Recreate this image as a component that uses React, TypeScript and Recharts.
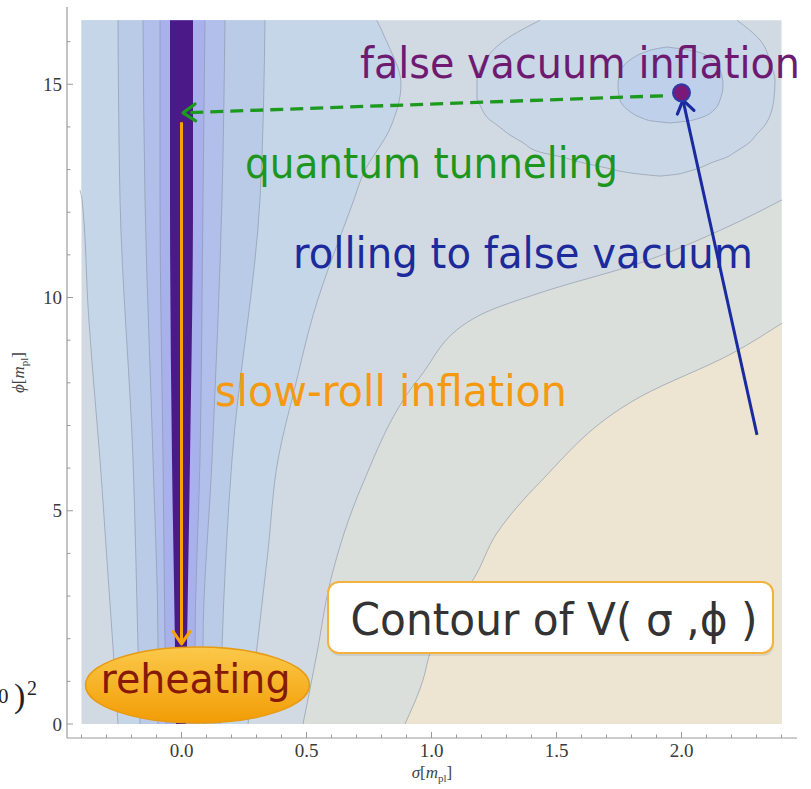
import React from 'react';
import { ComposedChart, Area, Line, XAxis, YAxis, ReferenceDot } from 'recharts';

const W = 811;
const H = 789;

// ---------- axes ----------
const SIGMA_TICKS = [-0.4, -0.3, -0.2, -0.1, 0, 0.1, 0.2, 0.3, 0.4, 0.5, 0.6, 0.7, 0.8, 0.9, 1.0, 1.1, 1.2, 1.3, 1.4, 1.5, 1.6, 1.7, 1.8, 1.9, 2.0, 2.1, 2.2, 2.3, 2.4];
const PHI_TICKS = [0, 1, 2, 3, 4, 5, 6, 7, 8, 9, 10, 11, 12, 13, 14, 15, 16];
const SIGMA_DOMAIN: [number, number] = [-0.458, 2.462];
const PHI_DOMAIN: [number, number] = [-0.328, 16.812];

// plotted region
const REGION_PHI = [0, 16.5];
const REGION_SIGMA = [-0.4, 2.4];

// ---------- valley bands (sampled at PHI_BAND) ----------
const PHI_BAND = [0, 1.8, 6.2, 12.3, 16.5];
const BAND0_LEFT = [-0.022, -0.026, -0.038, -0.046, -0.046];
const BAND0_RIGHT = [0.018, 0.022, 0.034, 0.046, 0.046];
const BAND1_LEFT = [-0.062, -0.066, -0.074, -0.086, -0.086];
const BAND1_RIGHT = [0.054, 0.054, 0.074, 0.086, 0.094];
const BAND2_LEFT = [-0.094, -0.094, -0.114, -0.146, -0.154];
const BAND2_RIGHT = [0.09, 0.086, 0.122, 0.162, 0.174];
const BAND3_LEFT = [-0.166, -0.174, -0.194, -0.246, -0.254];
const BAND3_RIGHT = [0.154, 0.162, 0.202, 0.314, 0.334];

const PHI_BAND4 = [0, 1.8, 4.0, 6.2, 7.9, 9.6, 12.3, 12.9, 14.0, 15.0, 16.0, 16.5];
const BAND4_LEFT = [-0.254, -0.274, -0.3, -0.326, -0.35, -0.372, -0.398, -0.4, -0.4, -0.4, -0.4, -0.4];
const BAND4_RIGHT = [0.266, 0.302, 0.345, 0.386, 0.454, 0.527, 0.69, 0.727, 0.837, 0.878, 0.821, 0.781];
const PHI_BAND4_EDGE = [0, 1.8, 4.0, 6.2, 7.9, 9.6, 12.3, 12.52];
const SIGMA_BAND4_EDGE = [-0.254, -0.274, -0.3, -0.326, -0.35, -0.372, -0.398, -0.406];

// ---------- right-hand contours ----------
const PHI_D = [0, 1.66, 3.31, 5.65, 8.14, 9.59, 10.11, 10.81, 11.65, 12.29];
const SIGMA_D = [0.486, 0.542, 0.594, 0.726, 0.954, 1.194, 1.434, 1.834, 2.182, 2.402];
const PHI_E = [0, 1.03, 1.66, 2.79, 3.38, 4.48, 5.67, 7.67, 8.7, 9.4];
const SIGMA_E = [0.894, 0.966, 0.994, 1.094, 1.166, 1.262, 1.434, 1.834, 2.206, 2.402];

// ---------- false-vacuum basin ----------
const PHI_OUTER = [12.847, 12.894, 12.941, 13.035, 13.175, 13.293, 13.41, 13.645, 13.81, 14.045, 14.162, 14.514, 14.678, 15.1, 15.452, 16.038, 16.5];
const OUTER_LEFT = [1.914, 1.834, 1.774, 1.702, 1.594, 1.522, 1.434, 1.362, 1.314, 1.262, 1.234, 1.194, 1.182, 1.182, 1.202, 1.294, 1.434];
const OUTER_RIGHT = [1.914, 1.986, 2.018, 2.07, 2.126, 2.182, 2.214, 2.274, 2.298, 2.334, 2.346, 2.366, 2.37, 2.374, 2.358, 2.314, 2.222];
const PHI_INNER = [14.093, 14.14, 14.21, 14.397, 14.632, 14.984, 15.335, 15.57, 15.757, 15.827, 15.874];
const INNER_LEFT = [1.954, 1.882, 1.842, 1.786, 1.754, 1.746, 1.758, 1.794, 1.854, 1.894, 1.942];
const INNER_RIGHT = [1.954, 2.026, 2.074, 2.13, 2.154, 2.166, 2.154, 2.122, 2.066, 2.002, 1.942];

// ---------- trajectories ----------
const FALSE_VACUUM = { sigma: 2.0, phi: 14.8 };
const TUNNEL_SIGMA = [1.926, 0.006];
const TUNNEL_PHI = [14.73, 14.33];
const SLOWROLL_SIGMA = [0, 0];
const SLOWROLL_PHI = [14.11, 1.88];
const ROLLING_SIGMA = [2.302, 2.006];
const ROLLING_PHI = [6.78, 14.63];

// ---------- helpers ----------
const rangeRows = (phi: number[], left: number[], right: number[]) =>
  phi.map((p, i) => ({ y: p, r: [left[i], right[i]] }));
const lineRows = (phi: number[], sigma: number[]) => phi.map((p, i) => ({ y: p, x: sigma[i] }));

const COL = {
  L0: '#4b1a88',
  L1: '#a9b1ec',
  L2: '#b2bfea',
  L3: '#bacbe7',
  L4: '#c5d6e8',
  L5: '#d1dae3',
  L6: '#dbdfdc',
  L7: '#ede5d2',
  outer: '#c9d7e7',
  inner: '#bfd0ea',
  contour: '#8795a5',
};
const AXIS = '#9a9a9a';
const SERIF = '"Liberation Serif", "DejaVu Serif", serif';
const SANS = '"DejaVu Sans", "Noto Sans", sans-serif';

const isMajor = (v: number, step: number) => Math.abs(v / step - Math.round(v / step)) < 1e-6;

const TickBottom = (p: any) => {
  const v = p.payload.value;
  const maj = isMajor(v, 0.5);
  return (
    <g>
      <line x1={p.x} x2={p.x} y1={p.y} y2={p.y - (maj ? 6 : 3.5)} stroke={AXIS} strokeWidth={1} />
      {maj && (
        <text x={p.x} y={p.y + 19} textAnchor="middle" fontFamily={SERIF} fontSize={19} fill="#3a3a3a">
          {v.toFixed(1)}
        </text>
      )}
    </g>
  );
};
const TickTop = (p: any) => {
  const v = p.payload.value;
  const maj = isMajor(v, 0.5);
  return <line x1={p.x} x2={p.x} y1={p.y} y2={p.y + (maj ? 6 : 3.5)} stroke={AXIS} strokeWidth={1} />;
};
const TickLeft = (p: any) => {
  const v = p.payload.value;
  const maj = isMajor(v, 5);
  return (
    <g>
      <line x1={p.x} x2={p.x + (maj ? 6 : 3.5)} y1={p.y} y2={p.y} stroke={AXIS} strokeWidth={1} />
      {maj && (
        <text x={p.x - 5} y={p.y + 6.5} textAnchor="end" fontFamily={SERIF} fontSize={19} fill="#3a3a3a">
          {String(v)}
        </text>
      )}
    </g>
  );
};
const TickRight = (p: any) => {
  const v = p.payload.value;
  const maj = isMajor(v, 5);
  return <line x1={p.x} x2={p.x - (maj ? 6 : 3.5)} y1={p.y} y2={p.y} stroke={AXIS} strokeWidth={1} />;
};

const XTitle = (props: any) => {
  const vb = props.viewBox || { x: 67, y: 738, width: 730, height: 51 };
  return (
    <text x={vb.x + vb.width / 2} y={vb.y + 40} textAnchor="middle" fontFamily={SERIF} fontSize={17} fill="#444">
      <tspan fontStyle="italic">σ</tspan>
      <tspan>[</tspan>
      <tspan fontStyle="italic">m</tspan>
      <tspan fontSize={11} dy={4}>pl</tspan>
      <tspan dy={-4}>]</tspan>
    </text>
  );
};
const YTitle = (props: any) => {
  const vb = props.viewBox || { x: 0, y: 7, width: 67, height: 731 };
  const cx = vb.x + 24;
  const cy = vb.y + vb.height / 2;
  return (
    <text x={cx} y={cy} transform={`rotate(-90 ${cx} ${cy})`} textAnchor="middle" fontFamily={SERIF} fontSize={17} fill="#444">
      <tspan fontStyle="italic">ϕ</tspan>
      <tspan>[</tspan>
      <tspan fontStyle="italic">m</tspan>
      <tspan fontSize={11} dy={4}>pl</tspan>
      <tspan dy={-4}>]</tspan>
    </text>
  );
};

const arrowHead = (color: string, fallbackDeg: number) => (p: any) => {
  const { cx, cy, index, points } = p;
  const n = points && points.length ? points.length : 2;
  if (index !== n - 1 || cx == null || cy == null) return <g key={`a-${index}`} />;
  let ang = (fallbackDeg * Math.PI) / 180;
  if (points && points.length >= 2) {
    const q = points[n - 2];
    ang = Math.atan2(cy - q.y, cx - q.x);
  }
  const L = 15;
  const s = 0.6;
  const ax = cx - L * Math.cos(ang - s);
  const ay = cy - L * Math.sin(ang - s);
  const bx = cx - L * Math.cos(ang + s);
  const by = cy - L * Math.sin(ang + s);
  return (
    <path
      key={`a-${index}`}
      d={`M${ax},${ay}L${cx},${cy}L${bx},${by}`}
      fill="none"
      stroke={color}
      strokeWidth={3.2}
      strokeLinecap="round"
      strokeLinejoin="round"
    />
  );
};

const annot = (text: string, color: string, size: number, len: number) => (p: any) => (
  <text x={p.cx} y={p.cy} fill={color} fontSize={size} fontFamily={SANS} textLength={len} lengthAdjust="spacingAndGlyphs">
    {text}
  </text>
);

const ReheatShape = (p: any) => (
  <g>
    <defs>
      <linearGradient id="reheatGrad" x1="0" y1="0" x2="0" y2="1">
        <stop offset="0%" stopColor="#fbc94a" />
        <stop offset="100%" stopColor="#f29c05" />
      </linearGradient>
    </defs>
    <ellipse cx={p.cx} cy={p.cy} rx={112} ry={38} fill="url(#reheatGrad)" stroke="#e89a10" strokeWidth={1.5} />
    <text x={p.cx - 97} y={p.cy + 8} fill="#861a06" fontSize={40} fontFamily={SANS} textLength={190} lengthAdjust="spacingAndGlyphs">
      reheating
    </text>
  </g>
);

const ContourBox = (p: any) => (
  <g>
    <rect x={p.cx - 222.5 + 1} y={p.cy - 35.5 + 3} width={445} height={71} rx={11} fill="#000" opacity={0.08} />
    <rect x={p.cx - 222.5} y={p.cy - 35.5} width={445} height={71} rx={11} fill="#ffffff" stroke="#f3b23e" strokeWidth={2} />
    <text x={p.cx - 200} y={p.cy + 17.5} fill="#333" fontSize={44} fontFamily={SANS} textLength={407} lengthAdjust="spacingAndGlyphs">
      Contour of V( σ ,ϕ )
    </text>
  </g>
);

const EdgeFormula = (p: any) => (
  <g fontFamily={SERIF} fill="#222">
    <text x={p.cx - 2} y={p.cy} fontSize={21}>0</text>
    <text x={p.cx + 14} y={p.cy + 4} fontSize={34}>)</text>
    <text x={p.cx + 27} y={p.cy - 8} fontSize={20}>2</text>
  </g>
);

const bandArea = (key: string, data: any[], fill: string, stroke = 'none') => (
  <Area
    key={key}
    data={data}
    dataKey="r"
    type="monotone"
    fill={fill}
    fillOpacity={1}
    stroke={stroke}
    strokeWidth={0.9}
    strokeOpacity={0.7}
    dot={false}
    activeDot={false}
    isAnimationActive={false}
  />
);
const contourLine = (key: string, data: any[]) => (
  <Line
    key={key}
    data={data}
    dataKey="x"
    type="monotone"
    stroke={COL.contour}
    strokeWidth={0.9}
    strokeOpacity={0.7}
    dot={false}
    activeDot={false}
    isAnimationActive={false}
  />
);

export default function App() {
  const bg = rangeRows(REGION_PHI, [REGION_SIGMA[0], REGION_SIGMA[0]], [REGION_SIGMA[1], REGION_SIGMA[1]]);
  const l6 = rangeRows(PHI_D, SIGMA_D, PHI_D.map(() => REGION_SIGMA[1]));
  const l7 = rangeRows(PHI_E, SIGMA_E, PHI_E.map(() => REGION_SIGMA[1]));
  return (
    <div style={{ position: 'absolute', left: 0, top: 0, width: W, height: H, background: '#fff' }}>
      <ComposedChart width={W} height={H} layout="vertical" margin={{ top: 7, right: 14, bottom: 0, left: 0 }}>
        <XAxis
          type="number"
          orientation="bottom"
          domain={SIGMA_DOMAIN}
          allowDataOverflow
          ticks={SIGMA_TICKS}
          interval={0}
          height={51}
          tickSize={0}
          tickMargin={0}
          tickLine={false}
          axisLine={{ stroke: AXIS, strokeWidth: 1.2 }}
          tick={TickBottom}
          label={XTitle}
        />
        <XAxis
          xAxisId="top"
          type="number"
          orientation="top"
          domain={SIGMA_DOMAIN}
          allowDataOverflow
          ticks={SIGMA_TICKS}
          interval={0}
          height={0}
          tickSize={0}
          tickMargin={0}
          tickLine={false}
          axisLine={{ stroke: AXIS, strokeWidth: 1.2 }}
          tick={TickTop}
        />
        <YAxis
          type="number"
          dataKey="y"
          orientation="left"
          reversed
          domain={PHI_DOMAIN}
          allowDataOverflow
          ticks={PHI_TICKS}
          interval={0}
          width={67}
          tickSize={0}
          tickMargin={0}
          tickLine={false}
          axisLine={{ stroke: AXIS, strokeWidth: 1.2 }}
          tick={TickLeft}
          label={YTitle}
        />
        <YAxis
          yAxisId="right"
          type="number"
          dataKey="y"
          orientation="right"
          reversed
          domain={PHI_DOMAIN}
          allowDataOverflow
          ticks={PHI_TICKS}
          interval={0}
          width={0}
          tickSize={0}
          tickMargin={0}
          tickLine={false}
          axisLine={{ stroke: AXIS, strokeWidth: 1.2 }}
          tick={TickRight}
        />

        {bandArea('bg', bg, COL.L5)}
        {bandArea('l6', l6, COL.L6)}
        {bandArea('l7', l7, COL.L7)}
        {bandArea('outer', rangeRows(PHI_OUTER, OUTER_LEFT, OUTER_RIGHT), COL.outer, COL.contour)}
        {bandArea('inner', rangeRows(PHI_INNER, INNER_LEFT, INNER_RIGHT), COL.inner, COL.contour)}
        {bandArea('b4', rangeRows(PHI_BAND4, BAND4_LEFT, BAND4_RIGHT), COL.L4)}
        {bandArea('b3', rangeRows(PHI_BAND, BAND3_LEFT, BAND3_RIGHT), COL.L3)}
        {bandArea('b2', rangeRows(PHI_BAND, BAND2_LEFT, BAND2_RIGHT), COL.L2)}
        {bandArea('b1', rangeRows(PHI_BAND, BAND1_LEFT, BAND1_RIGHT), COL.L1)}
        {bandArea('b0', rangeRows(PHI_BAND, BAND0_LEFT, BAND0_RIGHT), COL.L0)}

        {contourLine('cD', lineRows(PHI_D, SIGMA_D))}
        {contourLine('cE', lineRows(PHI_E, SIGMA_E))}
        {contourLine('c4l', lineRows(PHI_BAND4_EDGE, SIGMA_BAND4_EDGE))}
        {contourLine('c4r', lineRows(PHI_BAND4, BAND4_RIGHT))}
        {contourLine('c3l', lineRows(PHI_BAND, BAND3_LEFT))}
        {contourLine('c3r', lineRows(PHI_BAND, BAND3_RIGHT))}
        {contourLine('c2l', lineRows(PHI_BAND, BAND2_LEFT))}
        {contourLine('c2r', lineRows(PHI_BAND, BAND2_RIGHT))}
        {contourLine('c1l', lineRows(PHI_BAND, BAND1_LEFT))}
        {contourLine('c1r', lineRows(PHI_BAND, BAND1_RIGHT))}

        <Line
          data={lineRows(SLOWROLL_PHI, SLOWROLL_SIGMA)}
          dataKey="x"
          type="linear"
          stroke="#f7a400"
          strokeWidth={3}
          dot={arrowHead('#f7a400', 90)}
          activeDot={false}
          isAnimationActive={false}
        />
        <Line
          data={lineRows(TUNNEL_PHI, TUNNEL_SIGMA)}
          dataKey="x"
          type="linear"
          stroke="#1c9a1c"
          strokeWidth={3.3}
          strokeDasharray="13 7"
          dot={arrowHead('#1c9a1c', 180)}
          activeDot={false}
          isAnimationActive={false}
        />
        <Line
          data={lineRows(ROLLING_PHI, ROLLING_SIGMA)}
          dataKey="x"
          type="linear"
          stroke="#1a2aa0"
          strokeWidth={3}
          dot={arrowHead('#1a2aa0', -102)}
          activeDot={false}
          isAnimationActive={false}
        />

        <ReferenceDot x={FALSE_VACUUM.sigma} y={FALSE_VACUUM.phi} r={8.5} fill="#7a1a78" fillOpacity={1} stroke="#2a3aa8" strokeWidth={2} ifOverflow="visible" />

        <ReferenceDot x={0.714} y={15.15} r={0} ifOverflow="visible" shape={annot('false vacuum inflation', '#6e1a70', 42, 440)} />
        <ReferenceDot x={0.254} y={12.8} r={0} ifOverflow="visible" shape={annot('quantum tunneling', '#1e961e', 42, 373)} />
        <ReferenceDot x={0.446} y={10.69} r={0} ifOverflow="visible" shape={annot('rolling to false vacuum', '#1c2a9c', 42, 460)} />
        <ReferenceDot x={0.134} y={7.46} r={0} ifOverflow="visible" shape={annot('slow-roll inflation', '#f59a10', 42, 352)} />
        <ReferenceDot x={0.064} y={0.914} r={0} ifOverflow="visible" shape={ReheatShape} />
        <ReferenceDot x={1.476} y={2.497} r={0} ifOverflow="visible" shape={ContourBox} />
        <ReferenceDot x={-0.726} y={0.49} r={0} ifOverflow="visible" shape={EdgeFormula} />
      </ComposedChart>
    </div>
  );
}
